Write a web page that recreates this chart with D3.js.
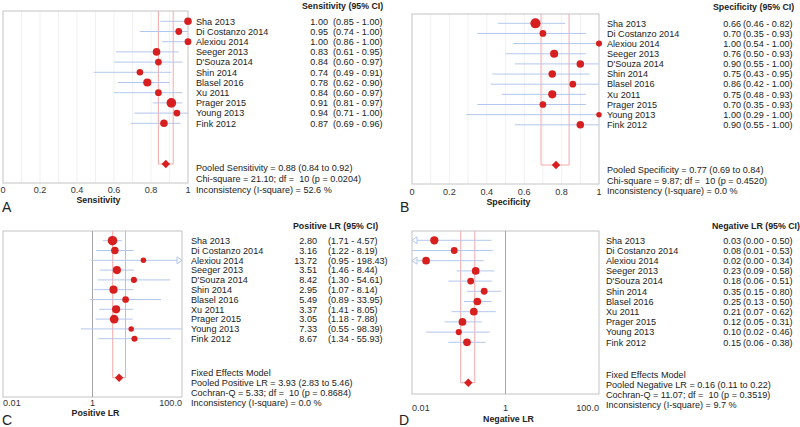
<!DOCTYPE html>
<html>
<head>
<meta charset="utf-8">
<script src="https://cdn.jsdelivr.net/npm/d3@7"></script>
<style>
  html, body { margin: 0; padding: 0; background: #fff; }
  svg { display: block; font-family: "Liberation Sans", Arial, sans-serif; }
  svg text { white-space: pre; }
</style>
</head>
<body>
<svg id="chart" width="800" height="427"></svg>
<script>
// ---------- DATA ----------
const studies = ["Sha 2013", "Di Costanzo 2014", "Alexiou 2014", "Seeger 2013", "D'Souza 2014",
  "Shin 2014", "Blasel 2016", "Xu 2011", "Prager 2015", "Young 2013", "Fink 2012"];

const sensEst = [1.00, 0.95, 1.00, 0.83, 0.84, 0.74, 0.78, 0.84, 0.91, 0.94, 0.87];
const sensLo  = [0.85, 0.74, 0.86, 0.61, 0.60, 0.49, 0.62, 0.60, 0.81, 0.71, 0.69];
const sensHi  = [1.00, 1.00, 1.00, 0.95, 0.97, 0.91, 0.90, 0.97, 0.97, 1.00, 0.96];
const sensWeight = [9.5, 7.6, 7.6, 9.5, 7.6, 7.1, 11.1, 7.6, 15.3, 7.6, 9.5];
const sensPooled = [0.88, 0.84, 0.92];
const sensStats = ["Pooled Sensitivity = 0.88 (0.84 to 0.92)",
  "Chi-square = 21.10; df =  10 (p = 0.0204)",
  "Inconsistency (I-square) = 52.6 %"];

const specEst = [0.66, 0.70, 1.00, 0.76, 0.90, 0.75, 0.86, 0.75, 0.70, 1.00, 0.90];
const specLo  = [0.46, 0.35, 0.54, 0.50, 0.55, 0.43, 0.42, 0.48, 0.35, 0.29, 0.55];
const specHi  = [0.82, 0.93, 1.00, 0.93, 1.00, 0.95, 1.00, 0.93, 0.93, 1.00, 1.00];
const specWeight = [17, 7.4, 6.1, 10.9, 9.3, 9.3, 7.4, 10.9, 7.4, 5, 9.3];
const specPooled = [0.77, 0.69, 0.84];
const specStats = ["Pooled Specificity = 0.77 (0.69 to 0.84)",
  "Chi-square = 9.87; df =  10 (p = 0.4520)",
  "Inconsistency (I-square) = 0.0 %"];

const plrEst = [2.80, 3.16, 13.72, 3.51, 8.42, 2.95, 5.49, 3.37, 3.05, 7.33, 8.67];
const plrLo  = [1.71, 1.22, 0.95, 1.46, 1.30, 1.07, 0.89, 1.41, 1.18, 0.55, 1.34];
const plrHi  = [4.57, 8.19, 198.43, 8.44, 54.61, 8.14, 33.95, 8.05, 7.88, 98.39, 55.93];
const plrWeight = [15.1, 9.4, 5, 11, 6.2, 11, 7.5, 11, 12.7, 5, 6.2];
const plrPooled = [3.93, 2.83, 5.46];
const plrStats = ["Fixed Effects Model",
  "Pooled Positive LR = 3.93 (2.83 to 5.46)",
  "Cochran-Q = 5.33; df =  10 (p = 0.8684)",
  "Inconsistency (I-square) = 0.0 %"];

const nlrEst = [0.03, 0.08, 0.02, 0.23, 0.18, 0.35, 0.25, 0.21, 0.12, 0.10, 0.15];
const nlrLo  = [0.00, 0.01, 0.00, 0.09, 0.06, 0.15, 0.13, 0.07, 0.05, 0.02, 0.06];
const nlrHi  = [0.50, 0.53, 0.34, 0.58, 0.51, 0.80, 0.50, 0.62, 0.31, 0.46, 0.38];
const nlrWeight = [11.4, 7.8, 9.8, 9.8, 7.8, 7.8, 9.8, 9.8, 9.8, 6.4, 9.8];
const nlrPooled = [0.16, 0.11, 0.22];
const nlrStats = ["Fixed Effects Model",
  "Pooled Negative LR = 0.16 (0.11 to 0.22)",
  "Cochran-Q = 11.07; df =  10 (p = 0.3519)",
  "Inconsistency (I-square) = 9.7 %"];

const propTicks = [0, 0.2, 0.4, 0.6, 0.8, 1];
const propTickLabels = ["0", "0.2", "0.4", "0.6", "0.8", "1"];
const lrTicks = [0.01, 1, 100];
const lrTickLabels = ["0.01", "1", "100.0"];

// ---------- DRAWING ----------
const svg = d3.select("#chart");
const rScale = d3.scaleSqrt().domain([0, 100]).range([0, 12.3]);
const C = {
  dot: "#d81f1f", ci: "#b3c7ec", pooledBox: "#f2a0a0", border: "#c4c4c4",
  ref: "#a5a5a5", grid: "#f1f1f1", text: "#222", tick: "#333"
};
const FS = 9.1;      // body text size
const FSH = 8.8;     // bold header size
const fmt2 = d3.format(".2f");

function drawPanel(p) {
  const g = svg.append("g");
  const x = (p.log ? d3.scaleLog() : d3.scaleLinear()).domain(p.domain).range([p.x0, p.x1]);
  const y = d3.scaleLinear().domain([0, 10]).range([p.row0, p.row0 + 10 * p.step]);
  const dMin = p.domain[0], dMax = p.domain[1];
  const cx = v => x(Math.min(Math.max(v, dMin), dMax));

  // faint gridlines
  if (!p.log) {
    g.selectAll(".grid").data(d3.range(1, 10).map(i => i / 10)).join("line")
      .attr("x1", d => x(d)).attr("x2", d => x(d))
      .attr("y1", p.top).attr("y2", p.bottom)
      .attr("stroke", C.grid).attr("stroke-width", 1);
  }

  // plot border
  g.append("rect").attr("x", p.x0).attr("y", p.top)
    .attr("width", p.x1 - p.x0).attr("height", p.bottom - p.top)
    .attr("fill", "none").attr("stroke", C.border).attr("stroke-width", 1);

  // reference line at 1 for LR
  if (p.log) {
    g.append("line").attr("x1", x(1)).attr("x2", x(1))
      .attr("y1", p.top).attr("y2", p.bottom)
      .attr("stroke", C.ref).attr("stroke-width", 1);
  }

  // pooled CI box
  g.append("path")
    .attr("d", `M${x(p.pooled[1])},${p.top}V${p.pooledY}H${x(p.pooled[2])}V${p.top}`)
    .attr("fill", "none").attr("stroke", C.pooledBox).attr("stroke-width", 0.9);

  const idx = d3.range(studies.length);
  // CI lines
  g.selectAll(".ci").data(idx).join("line")
    .attr("x1", i => cx(p.lo[i])).attr("x2", i => cx(p.hi[i]))
    .attr("y1", i => y(i)).attr("y2", i => y(i))
    .attr("stroke", C.ci).attr("stroke-width", 1);

  // open arrows where CI is beyond the axis
  idx.forEach(i => {
    if (p.hi[i] > dMax) {
      const xe = x(dMax), yy = y(i);
      g.append("path").attr("d", `M${xe - 5},${yy - 3.5}L${xe},${yy}L${xe - 5},${yy + 3.5}Z`)
        .attr("fill", "#fff").attr("stroke", C.ci).attr("stroke-width", 1);
    }
    if (p.lo[i] < dMin) {
      const xe = x(dMin), yy = y(i);
      g.append("path").attr("d", `M${xe + 5},${yy - 3.5}L${xe},${yy}L${xe + 5},${yy + 3.5}Z`)
        .attr("fill", "#fff").attr("stroke", C.ci).attr("stroke-width", 1);
    }
  });

  // points
  g.selectAll(".pt").data(idx).join("circle")
    .attr("cx", i => cx(p.est[i])).attr("cy", i => y(i))
    .attr("r", i => rScale(p.weight[i])).attr("fill", C.dot);

  // pooled diamond
  const px = x(p.pooled[0]), py = p.pooledY;
  g.append("path").attr("d", `M${px - 4.2},${py}L${px},${py - 4.2}L${px + 4.2},${py}L${px},${py + 4.2}Z`)
    .attr("fill", C.dot);

  // tick labels
  g.selectAll(".tk").data(p.ticks).join("text")
    .attr("x", d => x(d))
    .attr("y", p.tickY + 3.2)
    .attr("text-anchor", (d, i) => p.log ? (i === 0 ? "start" : (i === p.ticks.length - 1 ? "end" : "middle")) : "middle")
    .attr("font-size", FS).attr("fill", C.tick)
    .text((d, i) => p.tickLabels[i]);

  // axis label
  g.append("text").attr("x", (p.x0 + p.x1) / 2 + 3).attr("y", p.axisY + 3.4)
    .attr("text-anchor", "middle").attr("font-size", FSH).attr("font-weight", "bold")
    .attr("fill", C.text).text(p.axisLabel);

  // panel letter
  g.append("text").attr("x", p.letterX).attr("y", p.letterY)
    .attr("font-size", 14).attr("fill", C.text).text(p.letter);

  // header
  g.append("text").attr("x", p.headerX).attr("y", p.headerY + 3.2)
    .attr("font-size", FSH).attr("font-weight", "bold").attr("fill", C.text).text(p.header);

  // study names, values, CIs
  g.selectAll(".nm").data(idx).join("text")
    .attr("x", p.namesX).attr("y", i => y(i) + 3.2)
    .attr("font-size", FS).attr("fill", C.text).text(i => studies[i]);
  g.selectAll(".vl").data(idx).join("text")
    .attr("x", p.valX).attr("y", i => y(i) + 3.2).attr("text-anchor", "end")
    .attr("font-size", FS).attr("fill", C.text).text(i => fmt2(p.est[i]));
  g.selectAll(".cit").data(idx).join("text")
    .attr("x", p.ciX).attr("y", i => y(i) + 3.2)
    .attr("font-size", FS).attr("fill", C.text)
    .text(i => `(${fmt2(p.lo[i])} - ${fmt2(p.hi[i])})`);

  // footer stats
  g.selectAll(".ft").data(p.stats).join("text")
    .attr("x", p.namesX).attr("y", (d, i) => p.footerY[i] + 3.2)
    .attr("font-size", FS).attr("fill", C.text).text(d => d);
}

drawPanel({
  log: false, domain: [0, 1], x0: 3, x1: 188, top: 11, bottom: 183,
  row0: 21.3, step: 10.2, pooledY: 164, tickY: 190, axisY: 200,
  letter: "A", letterX: 2, letterY: 212,
  header: "Sensitivity (95% CI)", headerX: 302, headerY: 6,
  namesX: 196, valX: 328, ciX: 333, footerY: [168, 179, 190],
  est: sensEst, lo: sensLo, hi: sensHi, weight: sensWeight, pooled: sensPooled, stats: sensStats,
  ticks: propTicks, tickLabels: propTickLabels, axisLabel: "Sensitivity"
});

drawPanel({
  log: false, domain: [0, 1], x0: 412, x1: 599, top: 14, bottom: 184,
  row0: 23.3, step: 10.15, pooledY: 165, tickY: 192, axisY: 201.5,
  letter: "B", letterX: 400, letterY: 212,
  header: "Specificity (95% CI)", headerX: 713, headerY: 7,
  namesX: 607, valX: 741, ciX: 743, footerY: [170, 181, 191],
  est: specEst, lo: specLo, hi: specHi, weight: specWeight, pooled: specPooled, stats: specStats,
  ticks: propTicks, tickLabels: propTickLabels, axisLabel: "Specificity"
});

drawPanel({
  log: true, domain: [0.01, 100], x0: 3, x1: 182, top: 231, bottom: 397,
  row0: 240.7, step: 9.8, pooledY: 377.7, tickY: 403, axisY: 413,
  letter: "C", letterX: 2, letterY: 424.5,
  header: "Positive LR (95% CI)", headerX: 293, headerY: 226,
  namesX: 191, valX: 317, ciX: 328, footerY: [373, 383, 393, 403],
  est: plrEst, lo: plrLo, hi: plrHi, weight: plrWeight, pooled: plrPooled, stats: plrStats,
  ticks: lrTicks, tickLabels: lrTickLabels, axisLabel: "Positive LR"
});

drawPanel({
  log: true, domain: [0.01, 100], x0: 412, x1: 599, top: 231, bottom: 394,
  row0: 240.3, step: 10.2, pooledY: 382.7, tickY: 408, axisY: 418.5,
  letter: "D", letterX: 399, letterY: 424.5,
  header: "Negative LR (95% CI)", headerX: 712, headerY: 226,
  namesX: 606, valX: 741, ciX: 743, footerY: [375, 385, 395, 405],
  est: nlrEst, lo: nlrLo, hi: nlrHi, weight: nlrWeight, pooled: nlrPooled, stats: nlrStats,
  ticks: lrTicks, tickLabels: lrTickLabels, axisLabel: "Negative LR"
});
</script>
</body>
</html>
